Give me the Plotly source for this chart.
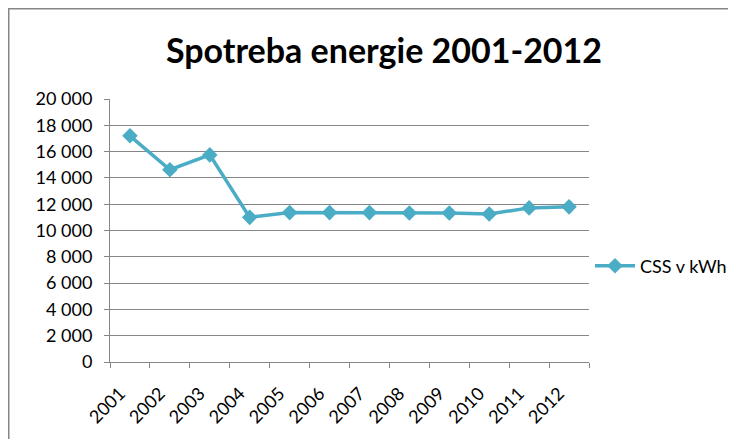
import plotly.graph_objects as go

years = ["2001", "2002", "2003", "2004", "2005", "2006", "2007", "2008", "2009", "2010", "2011", "2012"]
css_kwh = [17200, 14620, 15750, 11000, 11360, 11360, 11360, 11330, 11330, 11250, 11720, 11800]
y_tick_vals = [0, 2000, 4000, 6000, 8000, 10000, 12000, 14000, 16000, 18000, 20000]
y_tick_text = ["0", "2 000", "4 000", "6 000", "8 000", "10 000", "12 000", "14 000", "16 000", "18 000", "20 000"]

OFF = 8  # page body margin offset
W, H = 736 - OFF, 447 - 2 * OFF
L, R, T, B = 110 - OFF, 589 - OFF, 99 - OFF, 362 - OFF
pw, ph = R - L, B - T

def px(x):
    return (x - OFF - L) / pw

def py(y):
    return (B - (y - OFF)) / ph

color = "#4BACC6"
font = "Lato, Open Sans, sans-serif"

fig = go.Figure()
fig.add_trace(go.Scatter(
    x=years, y=css_kwh, mode="lines+markers", name="CSS v kWh",
    line=dict(color=color, width=3.5),
    marker=dict(symbol="diamond", size=12, color=color),
))

fig.update_layout(
    width=W, height=H,
    margin=dict(l=L, r=W - R, t=T, b=H - B, autoexpand=False),
    paper_bgcolor="white", plot_bgcolor="white",
    title=dict(text="<b>Spotreba energie 2001-2012</b>", x=(384 - OFF) / W, xanchor="center",
               y=1 - (51 - OFF) / H, yanchor="middle",
               font=dict(family=font, size=34, color="black")),
    showlegend=True,
    legend=dict(xref="container", yref="container",
                x=(590 - OFF) / W, y=1 - (266 - OFF) / H, xanchor="left", yanchor="middle",
                font=dict(family=font, size=18, color="black"),
                bgcolor="rgba(0,0,0,0)", itemwidth=40),
    font=dict(family=font, size=18, color="black"),
)

fig.update_xaxes(
    type="category", tickangle=-45, showgrid=False,
    showline=True, linecolor="#868686", linewidth=1,
    ticks="outside", ticklen=5, tickcolor="#868686", tickson="boundaries",
    tickfont=dict(family=font, size=18, color="black"),
    ticklabelstandoff=13, ticklabelshift=-10,
    range=[-0.5, len(years) - 0.5],
)
fig.update_yaxes(
    range=[0, 20000], tickvals=y_tick_vals, ticktext=y_tick_text,
    showgrid=True, gridcolor="#868686", gridwidth=1,
    showline=True, linecolor="#868686", linewidth=1,
    ticks="outside", ticklen=5, tickcolor="#868686",
    tickfont=dict(family=font, size=18, color="black"),
    ticklabelstandoff=8,
    zeroline=False,
)

# outer chart border (left and top edges visible)
fig.add_shape(type="path", xref="paper", yref="paper",
              path=f"M {px(8.5)} {py(460)} L {px(8.5)} {py(8.5)} L {px(737)} {py(8.5)}",
              line=dict(color="#868686", width=2))

fig.write_html("out.html", config={"displayModeBar": False})
